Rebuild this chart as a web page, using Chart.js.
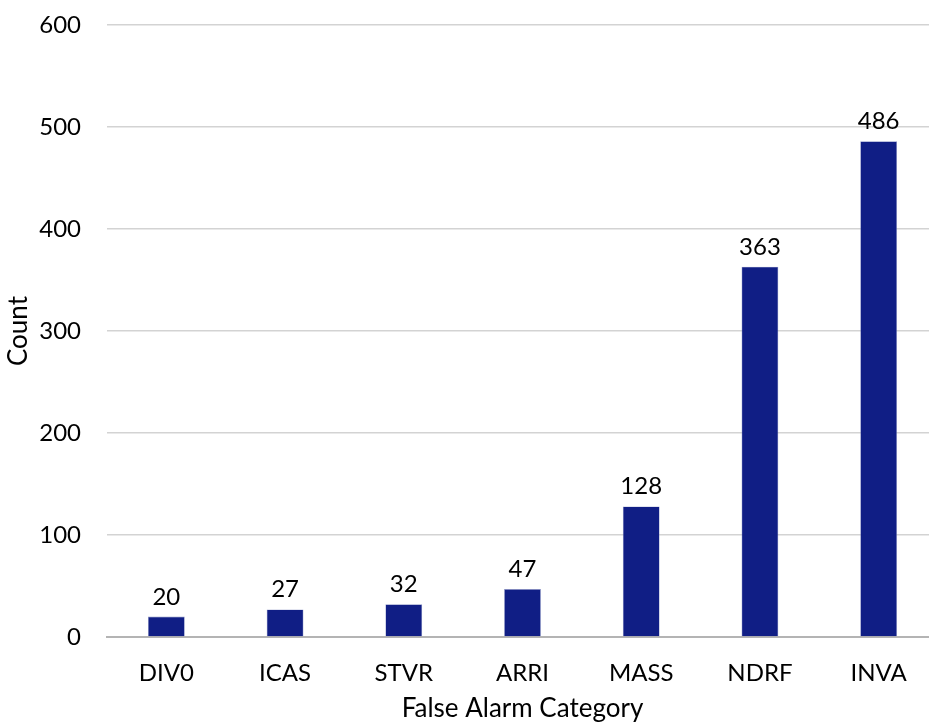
<!DOCTYPE html>
<html>
<head>
<meta charset="utf-8">
<script src="https://cdn.jsdelivr.net/npm/chart.js@4"></script>
<style>
  html, body { margin: 0; padding: 0; background: #fff; overflow: hidden; }
  #wrap { width: 946px; height: 724px; }
</style>
</head>
<body>
<div id="wrap"><canvas id="chart"></canvas></div>
<script>
// False alarm counts per category
const categories = ['DIV0', 'ICAS', 'STVR', 'ARRI', 'MASS', 'NDRF', 'INVA'];
const counts = [20, 27, 32, 47, 128, 363, 486];
const yTicks = [0, 100, 200, 300, 400, 500, 600];

const FONT = 'Lato, "Open Sans", sans-serif';

// Writes each bar's value above it
const valueLabels = {
  id: 'valueLabels',
  afterDatasetsDraw(chart) {
    const ctx = chart.ctx;
    const meta = chart.getDatasetMeta(0);
    ctx.save();
    ctx.font = '24px ' + FONT;
    ctx.fillStyle = '#000';
    ctx.textAlign = 'center';
    ctx.textBaseline = 'alphabetic';
    meta.data.forEach((bar, i) => {
      ctx.fillText(String(counts[i]), bar.x, bar.y - 12);
    });
    ctx.restore();
  }
};

new Chart(document.getElementById('chart'), {
  type: 'bar',
  data: {
    labels: categories,
    datasets: [{
      data: counts,
      backgroundColor: '#101e85',
      borderColor: '#8a93c4',
      borderWidth: 0.6,
      barPercentage: 0.31,
      categoryPercentage: 1.0
    }]
  },
  options: {
    responsive: true,
    maintainAspectRatio: false,
    animation: false,
    layout: { autoPadding: false, padding: { top: 25, right: 8, left: 0, bottom: 0 } },
    plugins: { legend: { display: false }, tooltip: { enabled: false } },
    scales: {
      x: {
        grid: { display: false, drawTicks: false },
        border: { color: '#b4b4b4', width: 2 },
        ticks: { color: '#000', font: { family: FONT, size: 24 }, padding: 22 },
        title: {
          display: true, text: 'False Alarm Category', color: '#000',
          font: { family: FONT, size: 26 }, padding: { top: 5, bottom: 0 }
        },
        afterFit(axis) { axis.height = 87; }
      },
      y: {
        min: 0, max: 600,
        afterBuildTicks(axis) { axis.ticks = yTicks.map(v => ({ value: v })); },
        grid: { color: '#d3d3d3', lineWidth: 1.5, drawTicks: false },
        border: { display: false },
        ticks: { color: '#000', font: { family: FONT, size: 24 }, padding: 26 },
        title: {
          display: true, text: 'Count', color: '#000',
          font: { family: FONT, size: 26 }, padding: { top: 3, bottom: 0 }
        },
        afterFit(axis) {
          axis.width = 107;
          axis.paddingTop = 0;
          axis.paddingBottom = 0;
        }
      }
    }
  },
  plugins: [valueLabels]
});
</script>
</body>
</html>
